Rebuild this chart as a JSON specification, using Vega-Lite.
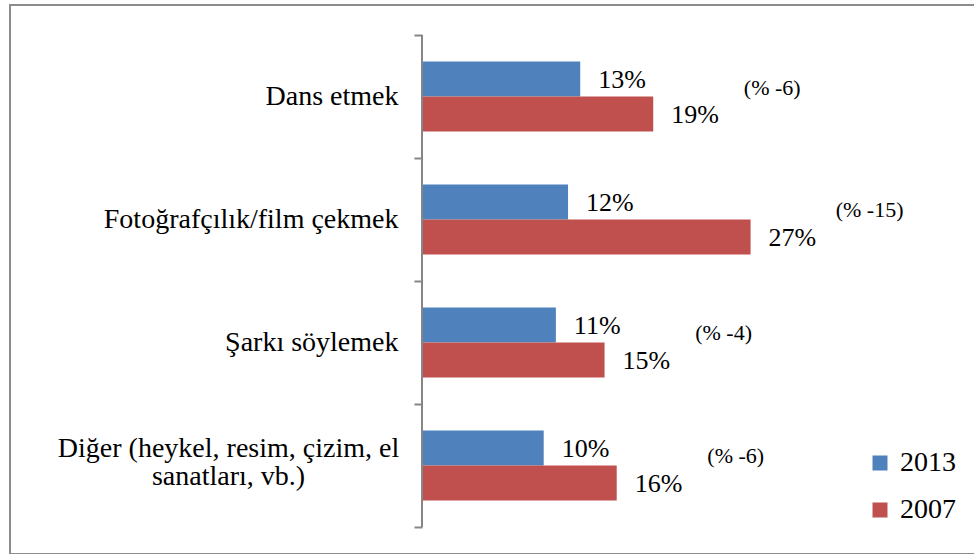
{
  "$schema": "https://vega.github.io/schema/vega-lite/v6.json",
  "autosize": "none",
  "width": 975,
  "height": 549,
  "padding": {"left": 10, "top": 5, "right": 0, "bottom": 0},
  "background": "white",
  "config": {
    "view": {"stroke": "#8c8c8c", "strokeWidth": 2},
    "font": "Liberation Serif",
    "style": {"etiket": {"font": "Liberation Serif"}}
  },
  "data": {
    "values": [
      {"kategori": "Dans etmek", "yil": "2013", "oran": 0.13, "degisim": "(% -6)"},
      {"kategori": "Dans etmek", "yil": "2007", "oran": 0.19, "degisim": "(% -6)"},
      {"kategori": "Fotoğrafçılık/film çekmek", "yil": "2013", "oran": 0.12, "degisim": "(% -15)"},
      {"kategori": "Fotoğrafçılık/film çekmek", "yil": "2007", "oran": 0.27, "degisim": "(% -15)"},
      {"kategori": "Şarkı söylemek", "yil": "2013", "oran": 0.11, "degisim": "(% -4)"},
      {"kategori": "Şarkı söylemek", "yil": "2007", "oran": 0.15, "degisim": "(% -4)"},
      {"kategori": "Diğer (heykel, resim, çizim, el|sanatları, vb.)", "yil": "2013", "oran": 0.10, "degisim": "(% -6)"},
      {"kategori": "Diğer (heykel, resim, çizim, el|sanatları, vb.)", "yil": "2007", "oran": 0.16, "degisim": "(% -6)"}
    ]
  },
  "layer": [
    {
      "mark": {"type": "bar"},
      "encoding": {
        "y": {
          "field": "kategori",
          "type": "nominal",
          "sort": null,
          "title": null,
          "scale": {"paddingInner": 0, "paddingOuter": 0.2322, "align": 0.526},
          "axis": {
            "offset": -412,
            "domain": false,
            "tickColor": "#868686",
            "tickWidth": 2,
            "tickSize": 8,
            "tickBand": "extent",
            "labelFont": "Liberation Serif",
            "labelFontSize": 28,
            "labelColor": "black",
            "labelLimit": 500,
            "labelLineHeight": 28,
            "labelAlign": {"condition": {"test": "isString(datum.value) && indexof(datum.value, 'Diğer') === 0", "value": "center"}, "value": "right"},
            "labelPadding": {"condition": {"test": "isString(datum.value) && indexof(datum.value, 'Diğer') === 0", "value": 186}, "value": 16},
            "labelOffset": {"condition": {"test": "isString(datum.value) && indexof(datum.value, 'Diğer') === 0", "value": -17}, "value": 0},
            "labelExpr": "isString(datum.value) ? split(datum.value, '|') : ''"
          }
        },
        "x": {
          "field": "oran",
          "type": "quantitative",
          "scale": {"domain": [-0.33854, 0.46261], "nice": false, "zero": false},
          "axis": null
        },
        "yOffset": {"field": "yil", "type": "nominal", "sort": ["2013", "2007"], "scale": {"paddingInner": 0, "paddingOuter": 0.757}},
        "color": {
          "field": "yil",
          "type": "nominal",
          "sort": ["2013", "2007"],
          "scale": {"domain": ["2013", "2007"], "range": ["#4F81BD", "#C0504D"]},
          "legend": {
            "title": null,
            "orient": "none",
            "legendX": 856,
            "legendY": 444,
            "padding": 0,
            "symbolType": "square",
            "symbolSize": 225,
            "symbolStrokeWidth": 0,
            "labelFont": "Liberation Serif",
            "labelFontSize": 28,
            "labelColor": "black",
            "labelOffset": 6,
            "rowPadding": 19
          }
        }
      }
    },
    {
      "mark": {"type": "tick", "orient": "vertical", "color": "#868686", "thickness": 2, "size": 123, "opacity": 1},
      "encoding": {
        "y": {"field": "kategori", "type": "nominal", "sort": null},
        "x": {"datum": 0, "type": "quantitative"}
      }
    },
    {
      "mark": {"type": "text", "style": "etiket", "align": "left", "baseline": "middle", "dx": 18, "dy": 1, "fontSize": 26, "font": "Liberation Serif", "color": "black"},
      "encoding": {
        "y": {"field": "kategori", "type": "nominal", "sort": null},
        "x": {"field": "oran", "type": "quantitative"},
        "yOffset": {"field": "yil", "type": "nominal", "sort": ["2013", "2007"]},
        "text": {"field": "oran", "type": "quantitative", "format": ".0%"}
      }
    },
    {
      "transform": [
        {"joinaggregate": [{"op": "max", "field": "oran", "as": "enYuksek"}], "groupby": ["kategori"]},
        {"filter": "datum.yil === '2013'"}
      ],
      "mark": {"type": "text", "style": "etiket", "align": "center", "baseline": "middle", "dx": 119, "dy": -9, "fontSize": 22, "font": "Liberation Serif", "color": "black"},
      "encoding": {
        "y": {"field": "kategori", "type": "nominal", "sort": null},
        "x": {"field": "enYuksek", "type": "quantitative"},
        "text": {"field": "degisim", "type": "nominal"}
      }
    }
  ]
}
